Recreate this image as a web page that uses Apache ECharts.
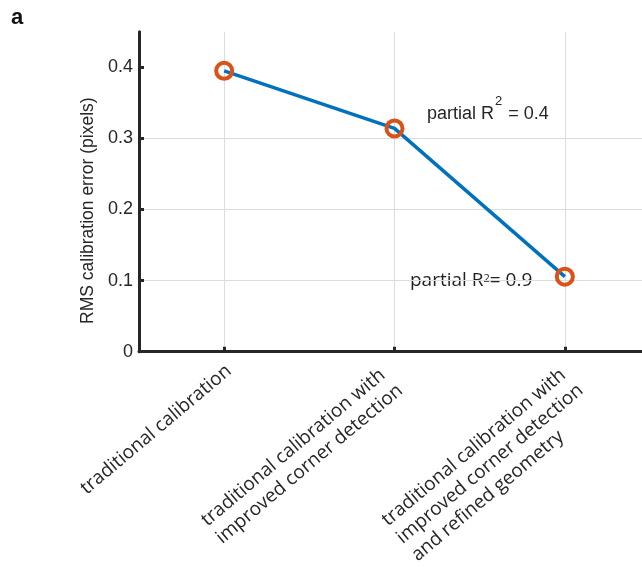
<!DOCTYPE html>
<html>
<head>
<meta charset="utf-8">
<script src="https://cdn.jsdelivr.net/npm/echarts@6/dist/echarts.min.js"></script>
<style>
html,body{margin:0;padding:0;background:#ffffff;}
#chart{width:642px;height:569px;}
</style>
</head>
<body>
<div id="chart"></div>
<script>
// ---- data ----
const categories = [
  'traditional calibration',
  'traditional calibration with\nimproved corner detection',
  'traditional calibration with\nimproved corner detection\nand refined geometry'
];
const rmsError = [0.395, 0.314, 0.1055];
const yTicks = [0, 0.1, 0.2, 0.3, 0.4];
const yMax = 0.45;
const yAxisTitle = 'RMS calibration error (pixels)';
const panelLabel = 'a';
const annotation1 = ['partial R', '2', ' = 0.4'];
const annotation2 = ['partial R', '2', '= 0.9'];

// ---- styling (kept separate from data) ----
const INK = '#262626';
const GRID = '#dcdcdc';
const labelPadding = [[15, 0, 0, 0], [23, 12, 0, 0], [59, 4, 0, 0]];

const chart = echarts.init(document.getElementById('chart'), null, {renderer: 'canvas'});

const option = {
  animation: false,
  backgroundColor: '#ffffff',
  grid: {left: 139, top: 31.7, width: 511, height: 320, containLabel: false, outerBoundsMode: 'none'},
  xAxis: {
    type: 'category',
    data: categories.map((c, i) => ({value: c, textStyle: {padding: labelPadding[i]}})),
    boundaryGap: true,
    axisLine: {show: true, onZero: false, lineStyle: {color: INK, width: 3}},
    axisTick: {show: true, inside: true, length: 5, alignWithLabel: true, interval: 0,
               lineStyle: {color: INK, width: 3}},
    splitLine: {show: true, alignWithLabel: true, interval: 0, lineStyle: {color: GRID, width: 1}},
    axisLabel: {
      interval: 0, rotate: 40, margin: 11, hideOverlap: false,
      color: INK, fontFamily: 'Open Sans', fontSize: 19, lineHeight: 23,
      formatter: v => '{l|' + v + '}',
      rich: {l: {align: 'left', color: INK, fontFamily: 'Open Sans', fontSize: 19, lineHeight: 23}}
    }
  },
  yAxis: {
    type: 'value', min: 0, max: yMax, interval: 0.1,
    name: yAxisTitle, nameLocation: 'middle', nameGap: 39,
    nameTextStyle: {color: INK, fontFamily: 'Liberation Sans', fontSize: 17.5, padding: [0, 38, 0, 0]},
    axisLine: {show: true, lineStyle: {color: INK, width: 3}},
    axisTick: {show: true, inside: true, length: 5, customValues: yTicks, lineStyle: {color: INK, width: 3}},
    axisLabel: {customValues: yTicks, margin: 6, color: INK, fontFamily: 'Liberation Sans', fontSize: 18},
    splitLine: {show: true, showMinLine: false, showMaxLine: false, lineStyle: {color: GRID, width: 1}}
  },
  series: [{
    type: 'line',
    data: rmsError,
    symbol: 'circle',
    symbolSize: 16,
    lineStyle: {color: '#0072BD', width: 3.5},
    itemStyle: {color: 'rgba(0,0,0,0)', borderColor: '#D95319', borderWidth: 4},
    z: 3
  }],
  graphic: [
    {type: 'text', x: 11, y: 18.2, style: {text: panelLabel, fill: '#111', font: 'bold 22px "Liberation Sans"', verticalAlign: 'middle', align: 'left'}},
    {type: 'text', x: 427, y: 104.8, style: {
      text: '{a|' + annotation1[0] + '}{s|' + annotation1[1] + '}{a|' + annotation1[2] + '}',
      align: 'left', verticalAlign: 'top',
      rich: {
        a: {fill: INK, fontFamily: 'Liberation Sans', fontSize: 18, lineHeight: 18, verticalAlign: 'bottom'},
        s: {fill: INK, fontFamily: 'Liberation Sans', fontSize: 13, lineHeight: 13, padding: [0, 1, 15, 1], verticalAlign: 'bottom'}
      }
    }},
    {type: 'text', x: 410, y: 271.4, style: {
      text: '{b|' + annotation2[0] + '}{t|' + annotation2[1] + '}{b|' + annotation2[2] + '}',
      align: 'left', verticalAlign: 'top',
      rich: {
        b: {fill: '#231f20', fontFamily: 'Open Sans', fontSize: 19, lineHeight: 19, verticalAlign: 'bottom'},
        t: {fill: '#231f20', fontFamily: 'Open Sans', fontSize: 11, lineHeight: 11, padding: [0, 0, 6.5, 0], verticalAlign: 'bottom'}
      }
    }}
  ]
};
chart.setOption(option);
</script>
</body>
</html>
